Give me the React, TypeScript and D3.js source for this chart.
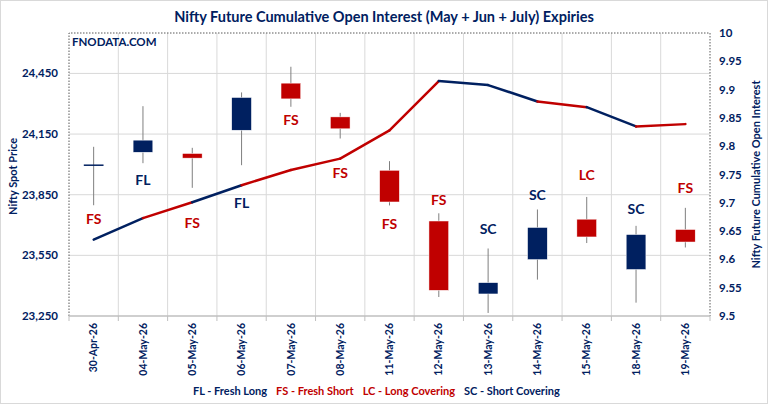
import { useEffect } from 'react';
import * as d3 from 'd3';

const DATES = ['30-Apr-26', '04-May-26', '05-May-26', '06-May-26', '07-May-26', '08-May-26', '11-May-26', '12-May-26', '13-May-26', '14-May-26', '15-May-26', '18-May-26', '19-May-26'];
const OPEN = [23996, 24060, 24054, 24169, 24402, 24235, 23971, 23720, 23359, 23529, 23729, 23480, 23678];
const HIGH = [24087, 24288, 24082, 24356, 24483, 24255, 24016, 23758, 23584, 23777, 23839, 23696, 23785];
const LOW = [23798, 24006, 23884, 23996, 24285, 24128, 23797, 23344, 23265, 23430, 23611, 23316, 23589];
const CLOSE = [23996, 24120, 24031, 24331, 24324, 24176, 23814, 23377, 23415, 23688, 23641, 23653, 23616];
const OI = [9.635, 9.673, 9.701, 9.731, 9.758, 9.778, 9.828, 9.915, 9.908, 9.879, 9.869, 9.835, 9.839];
const SIGNAL = ['FS', 'FL', 'FS', 'FL', 'FS', 'FS', 'FS', 'FS', 'SC', 'SC', 'LC', 'SC', 'FS'];
const SIGNAL_AT = [23729, 23922, 23710, 23808, 24219, 23956, 23707, 23823, 23679, 23847, 23946, 23778, 23884];
const PRICE_TICKS = [23250, 23550, 23850, 24150, 24450];
const OI_TICKS = [9.5, 9.55, 9.6, 9.65, 9.7, 9.75, 9.8, 9.85, 9.9, 9.95, 10];
const LEGEND_KEYS = ['FL', 'FS', 'LC', 'SC'];
const LEGEND_TEXT = ['FL - Fresh Long', 'FS - Fresh Short', 'LC - Long Covering', 'SC - Short Covering'];

const NAVY = '#002060';
const RED = '#C00000';
const FONT = 'Lato, "Open Sans", sans-serif';
const W = 768;
const H = 404;
const P = { left: 69, right: 710, top: 33, bottom: 316 };

const sigColor = (s: string) => (s === 'FL' || s === 'SC' ? NAVY : RED);

export default function App() {
  useEffect(() => {
    document.body.style.margin = '0';
  }, []);

  const x = d3.scaleBand().domain(DATES).range([P.left, P.right]);
  const y = d3.scaleLinear().domain([23250, 24650]).range([P.bottom, P.top]);
  const y2 = d3.scaleLinear().domain([9.5, 10]).range([P.bottom, P.top]);
  const cx = (i: number) => (x(DATES[i]) ?? 0) + x.bandwidth() / 2;
  const bodyW = x.bandwidth() * 0.4;

  // line through [index, value] pairs
  const line = d3
    .line<[number, number]>()
    .x((d) => cx(d[0]))
    .y((d) => y2(d[1]));

  const boundaries = DATES.map((d) => x(d) ?? 0).concat([P.right]);

  return (
    <svg width={W} height={H} style={{ display: 'block', background: '#fff' }} fontFamily={FONT}>
      <rect x={0.5} y={0.5} width={W - 1} height={H - 1} fill="#fff" stroke="#d9d9d9" />
      <text x={384} y={22} textAnchor="middle" fontSize={14.5} fontWeight={700} fill={NAVY}>
        Nifty Future Cumulative Open Interest (May + Jun + July) Expiries
      </text>

      {/* grid */}
      {PRICE_TICKS.slice(1).map((t) => (
        <line key={t} x1={P.left} x2={P.right} y1={y(t)} y2={y(t)} stroke="#d9d9d9" />
      ))}
      {boundaries.slice(1, -1).map((b, i) => (
        <line key={i} x1={b} x2={b} y1={P.top} y2={P.bottom} stroke="#d9d9d9" />
      ))}
      {/* plot border */}
      <path
        d={`M${P.left},${P.bottom}V${P.top}H${P.right}V${P.bottom}`}
        fill="none"
        stroke="#595959"
        strokeDasharray="1.5,1.5"
      />
      <line x1={P.left} x2={P.right} y1={P.bottom} y2={P.bottom} stroke="#bfbfbf" strokeWidth={1.5} />
      {boundaries.map((b, i) => (
        <line key={i} x1={b} x2={b} y1={P.bottom} y2={P.bottom + 5} stroke="#bfbfbf" />
      ))}

      <text x={72} y={46} fontSize={11.5} fontWeight={700} fill={NAVY}>FNODATA.COM</text>

      {/* left axis */}
      {PRICE_TICKS.map((t) => (
        <text key={t} x={58} y={y(t)} dy="0.35em" textAnchor="end" fontSize={11.5} fontWeight={700} fill={NAVY}>
          {d3.format(',')(t)}
        </text>
      ))}
      <text
        transform={`translate(13,${(P.top + P.bottom) / 2 + 2}) rotate(-90)`}
        textAnchor="middle"
        dy="0.35em"
        fontSize={11}
        fontWeight={700}
        fill={NAVY}
      >
        Nifty Spot Price
      </text>

      {/* right axis */}
      {OI_TICKS.map((t) => (
        <text key={t} x={719} y={y2(t)} dy="0.35em" fontSize={11.5} fontWeight={700} fill={NAVY}>
          {d3.format('~g')(t)}
        </text>
      ))}
      <text
        transform={`translate(756,${(P.top + P.bottom) / 2}) rotate(-90)`}
        textAnchor="middle"
        dy="0.35em"
        fontSize={11}
        fontWeight={700}
        fill={NAVY}
      >
        Nifty Future Cumulative Open Interest
      </text>

      {/* x labels */}
      {DATES.map((d, i) => (
        <text
          key={d}
          transform={`translate(${cx(i)},${P.bottom + 7}) rotate(-90)`}
          textAnchor="end"
          dy="0.35em"
          fontSize={10.5}
          fontWeight={700}
          fill={NAVY}
        >
          {d}
        </text>
      ))}

      {/* candles */}
      {DATES.map((d, i) => {
        const o = OPEN[i];
        const c = CLOSE[i];
        const up = c >= o;
        const top = y(Math.max(o, c));
        const bot = y(Math.min(o, c));
        return (
          <g key={d}>
            <line x1={cx(i)} x2={cx(i)} y1={y(HIGH[i])} y2={y(LOW[i])} stroke="#7f7f7f" strokeWidth={1} />
            {o === c ? (
              <line x1={cx(i) - bodyW / 2} x2={cx(i) + bodyW / 2} y1={top} y2={top} stroke={NAVY} strokeWidth={1.5} />
            ) : (
              <rect
                x={cx(i) - bodyW / 2}
                y={top}
                width={bodyW}
                height={bot - top}
                fill={up ? NAVY : RED}
                stroke="#fff"
                strokeWidth={0.5}
              />
            )}
          </g>
        );
      })}

      {/* OI line, each segment coloured by the end day's signal */}
      {OI.slice(1).map((v, k) => {
        const i = k + 1;
        return (
          <path
            key={i}
            d={line([[i - 1, OI[i - 1]], [i, v]]) ?? ''}
            fill="none"
            stroke={sigColor(SIGNAL[i])}
            strokeWidth={2.5}
            strokeLinecap="round"
          />
        );
      })}

      {/* signal labels */}
      {SIGNAL.map((s, i) => (
        <text key={i} x={cx(i)} y={y(SIGNAL_AT[i])} dy="0.35em" textAnchor="middle" fontSize={14} fontWeight={700} fill={sigColor(s)}>
          {s}
        </text>
      ))}

      {/* legend */}
      <text x={193} y={395} fontSize={11} fontWeight={700}>
        {LEGEND_KEYS.map((k, i) => (
          <tspan key={k} dx={i ? 9 : 0} fill={sigColor(k)}>
            {LEGEND_TEXT[i]}
          </tspan>
        ))}
      </text>
    </svg>
  );
}
